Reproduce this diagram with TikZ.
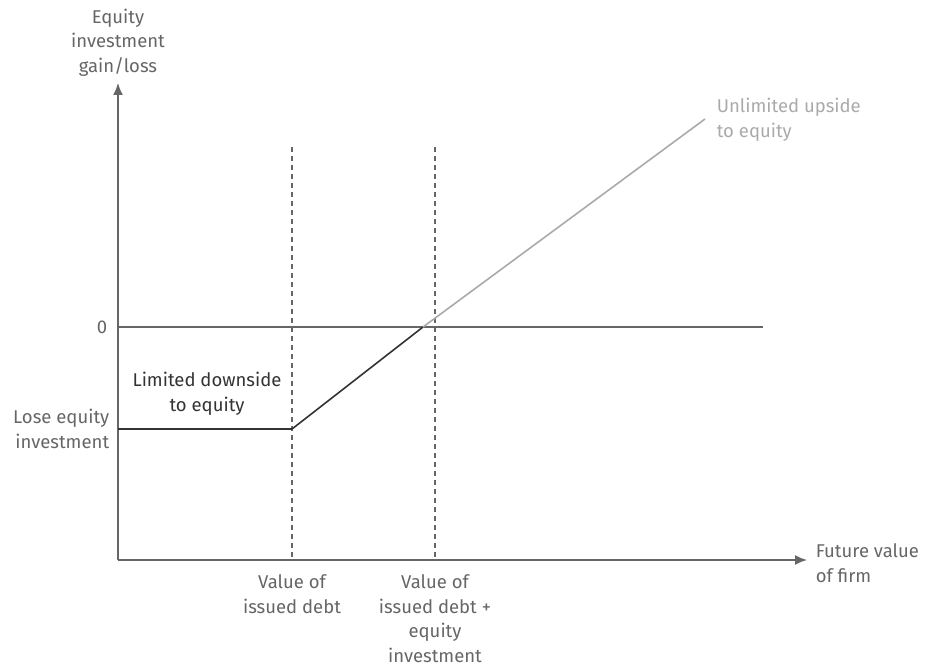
\documentclass[tikz,border=0pt]{standalone}
\usepackage{fontspec}
\setmainfont{Fira Sans}
\usetikzlibrary{positioning,arrows.meta}
\definecolor{axisgrey}{RGB}{102,102,102}
\definecolor{upgrey}{RGB}{170,170,170}
\definecolor{downgrey}{RGB}{51,51,51}

\begin{document}
\begin{tikzpicture}[x=1pt,y=-1pt,line width=1.6pt,>={Latex[length=12pt,width=10pt]},
  lbl/.style={font=\fontsize{18.5}{24.5}\selectfont,text=axisgrey,inner sep=0pt},
  guide/.style={axisgrey,line width=1.3pt,dash pattern=on 5pt off 4pt}]
\useasboundingbox (0,0) rectangle (931,671);

% axes
\coordinate (o) at (118,560);
\coordinate (ytop) at (118,83);
\coordinate (xend) at (807,560);
\draw[->,axisgrey] (o) -- (ytop);
\draw[->,axisgrey] (o) -- (xend);
\node[lbl,align=center,above=6pt of ytop] (ylab) {Equity\\investment\\gain/loss};
\node[lbl,align=left,anchor=west] (xlab) at (815,563) {Future value\\of firm};

% zero line
\coordinate (z0) at (118,327);
\coordinate (z1) at (763,327);
\draw[axisgrey] (z0) -- (z1);
\node[lbl,anchor=east] (zero) at (108,327) {0};

% guides
\coordinate (d0) at (292,147);
\coordinate (d1) at (292,560);
\coordinate (e0) at (435,147);
\coordinate (e1) at (435,560);
\draw[guide] (d0) -- (d1);
\draw[guide] (e0) -- (e1);
\node[lbl,align=center,anchor=north] (debt) at (292,574) {Value of\\issued debt};
\node[lbl,align=center,anchor=north] (debteq) at (435,574) {Value of\\issued debt +\\equity\\investment};

% payoff
\coordinate (lose) at (118,429);
\coordinate (kink) at (292,429);
\coordinate (cross) at (423,327);
\coordinate (up) at (705,119);
\draw[downgrey] (lose) -- (kink) -- (cross);
\draw[upgrey] (cross) -- (up);
\node[lbl,align=right,anchor=east] (loselab) at (110,429) {Lose equity\\investment};
\node[lbl,align=center,text=downgrey] (downlab) at (207,394) {Limited downside\\to equity};
\node[lbl,align=left,anchor=west,text=upgrey] (uplab) at (716,120) {Unlimited upside\\to equity};
\end{tikzpicture}
\end{document}
